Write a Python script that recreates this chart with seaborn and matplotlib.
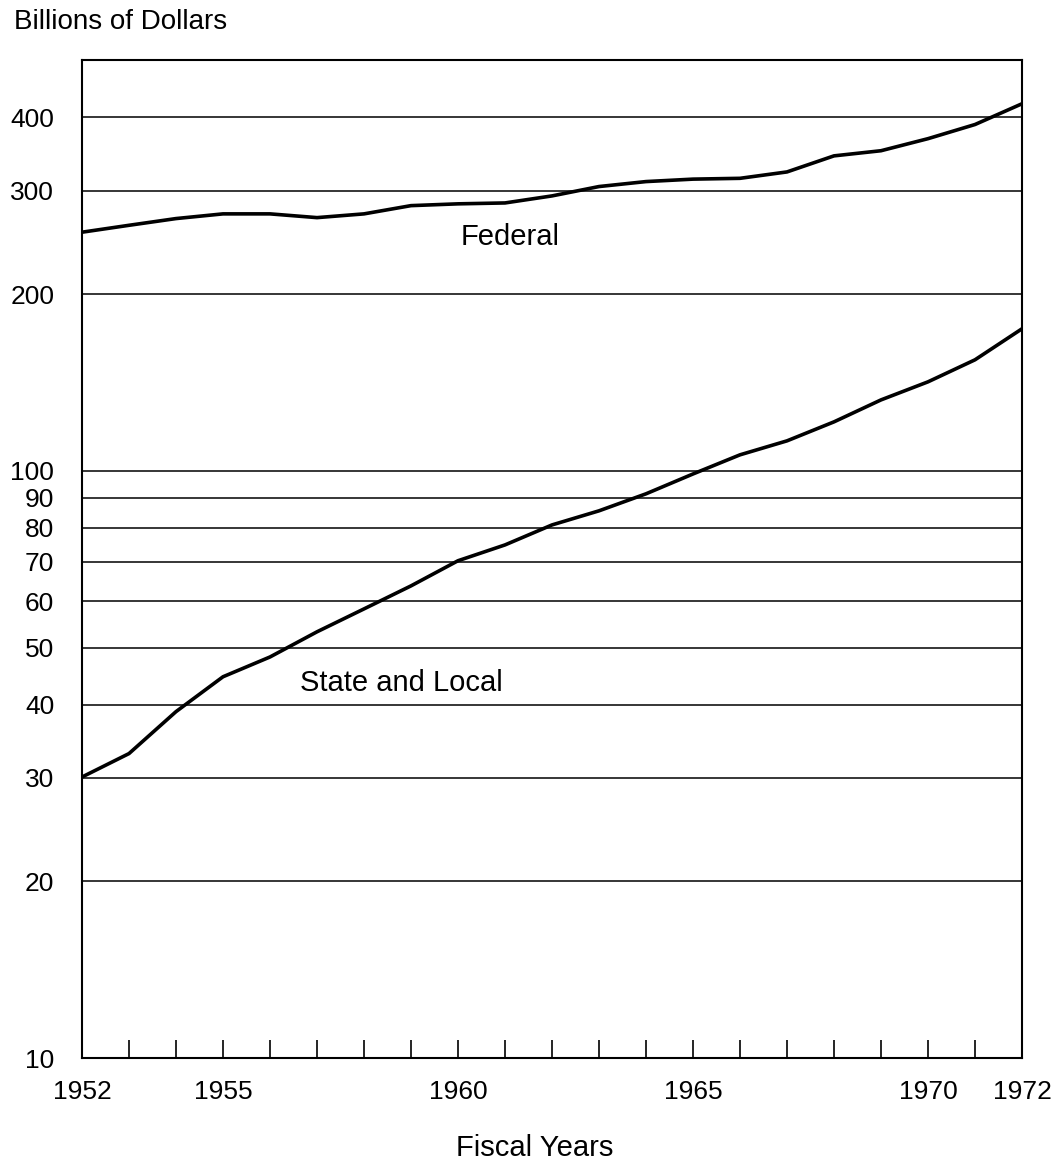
import numpy as np
import pandas as pd
import matplotlib
matplotlib.use("Agg")
import matplotlib.pyplot as plt
import seaborn as sns
from matplotlib.ticker import FixedLocator, NullLocator, FixedFormatter

# ---- data (billions of dollars, fiscal years) ----
years = list(range(1952, 1973))
federal = [255, 262, 269, 274, 274, 270, 274, 283, 285, 286, 294,
           305, 311, 314, 315, 323, 344, 351, 368, 389, 422]
state_local = [30.1, 33.0, 38.9, 44.6, 48.2, 53.2, 58.2, 63.7, 70.3, 74.8, 80.9,
               85.5, 91.4, 98.8, 106.5, 112.5, 121.2, 132.1, 141.8, 154.6, 174.6]
series_names = ["Federal", "State and Local"]
y_ticks = [10, 20, 30, 40, 50, 60, 70, 80, 90, 100, 200, 300, 400]
x_label_years = [1952, 1955, 1960, 1965, 1970, 1972]

df = pd.DataFrame({
    "year": years * 2,
    "value": federal + state_local,
    "series": [series_names[0]] * len(years) + [series_names[1]] * len(years),
})

sns.set_style("white")
plt.rcParams["font.family"] = ["Liberation Sans", "DejaVu Sans"]
plt.rcParams["text.color"] = "black"

fig = plt.figure(figsize=(10.64, 11.68), dpi=100)
ax = fig.add_axes([82 / 1064, 1 - 1058 / 1168, 940 / 1064, 998 / 1168])

sns.lineplot(data=df, x="year", y="value", units="series", estimator=None,
             color="black", linewidth=2.6, ax=ax, legend=False)

ax.set_yscale("log")
ax.set_ylim(10, 501)
ax.set_xlim(1952, 1972)

ax.yaxis.set_major_locator(FixedLocator(y_ticks))
ax.yaxis.set_major_formatter(FixedFormatter([str(v) for v in y_ticks]))
ax.yaxis.set_minor_locator(NullLocator())
ax.xaxis.set_major_locator(FixedLocator(x_label_years))
ax.xaxis.set_major_formatter(FixedFormatter([str(v) for v in x_label_years]))
ax.xaxis.set_minor_locator(FixedLocator(years))

ax.grid(axis="y", which="major", color="black", linewidth=1.1)
ax.grid(axis="x", visible=False)

ax.tick_params(axis="y", which="both", length=0, pad=20, labelsize=19,
               labelcolor="black")
ax.tick_params(axis="x", which="both", direction="in", length=13, width=1.2,
               color="black", pad=16, labelsize=19, labelcolor="black",
               bottom=True)

for s in ax.spines.values():
    s.set_visible(True)
    s.set_color("black")
    s.set_linewidth(1.5)

ax.set_xlabel("")
ax.set_ylabel("")

ax.text(1961.1, 250, "Federal", ha="center", va="center", fontsize=21,
        color="black")
ax.text(1958.8, 43.5, "State and Local", ha="center", va="center",
        fontsize=21, color="black")

fig.text(14 / 1064, 1 - 22 / 1168, "Billions of Dollars", ha="left",
         va="center", fontsize=20, color="black")
fig.text(535 / 1064, 1 - 1148 / 1168, "Fiscal Years", ha="center",
         va="center", fontsize=21, color="black")

fig.savefig("out.png", dpi=100, facecolor="white")
